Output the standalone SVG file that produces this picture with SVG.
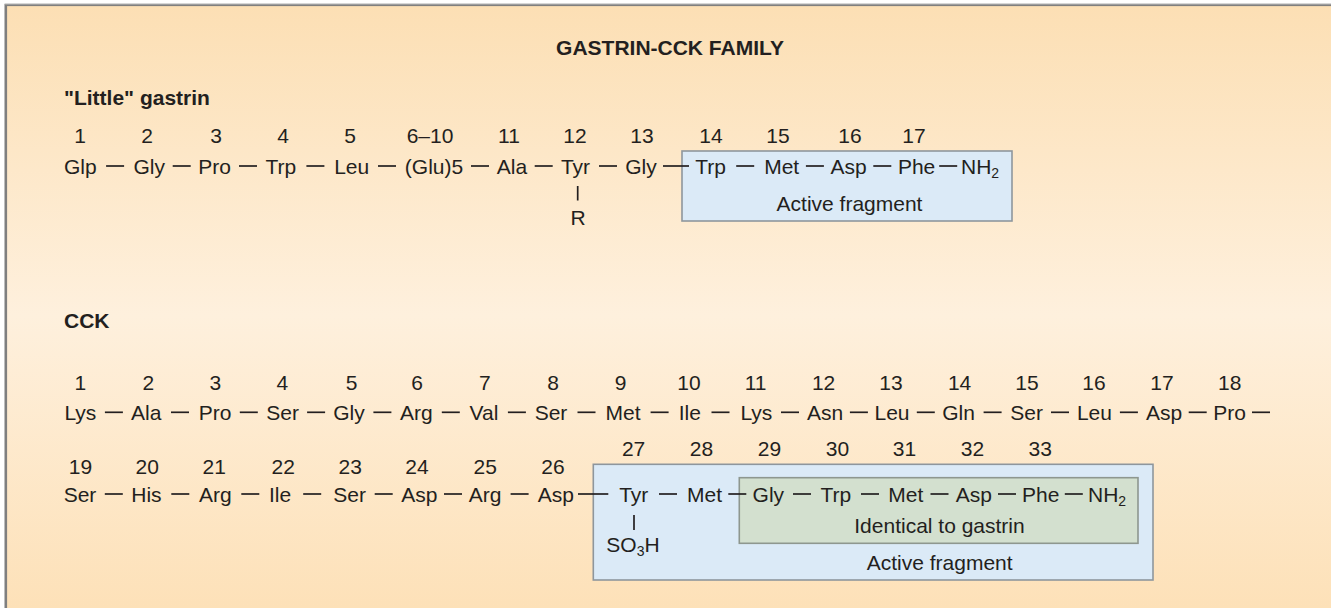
<svg xmlns="http://www.w3.org/2000/svg" width="1331" height="608" viewBox="0 0 1331 608">
<defs>
<linearGradient id="bg" x1="0" y1="0" x2="0" y2="1">
<stop offset="0" stop-color="#FCDFB4"/>
<stop offset="0.5" stop-color="#FEF0DD"/>
<stop offset="1" stop-color="#FDE0B6"/>
</linearGradient>
<style>
text{font-family:"Liberation Sans",Arial,Helvetica,sans-serif;font-size:21px;fill:#231F20}
.b{font-weight:bold}
.m{text-anchor:middle}
.sub{font-size:14px}
.bond line{stroke:#231F20;stroke-width:1.7}
.act{fill:#DBEAF7;stroke:#8E969D;stroke-width:1.6}
.ident{fill:#D3E0CF;stroke:#8E978F;stroke-width:1.6}
</style>
</defs>
<rect x="0" y="0" width="1331" height="608" fill="#FFFFFF"/>
<rect x="6" y="5" width="1340" height="620" fill="url(#bg)" stroke="#7F7F7F" stroke-width="2.2"/>
<line x1="4.5" y1="4" x2="1331" y2="4" stroke="#BDBDBD" stroke-width="1"/>
<line x1="4.5" y1="4" x2="4.5" y2="608" stroke="#BDBDBD" stroke-width="1"/>

<g id="title"><text class="b m" x="670" y="55">GASTRIN-CCK FAMILY</text></g>

<g id="gastrin">
<text class="b" x="64" y="104.5">"Little" gastrin</text>
<g id="gastrin-active"><rect class="act" x="682" y="151" width="330" height="70"/>
<text class="m" x="849.5" y="210.5">Active fragment</text></g>
<g id="gastrin-numbers">
<text class="m" x="80" y="143">1</text><text class="m" x="147" y="143">2</text><text class="m" x="216" y="143">3</text><text class="m" x="283" y="143">4</text><text class="m" x="350" y="143">5</text><text class="m" x="430" y="143">6–10</text><text class="m" x="509" y="143">11</text><text class="m" x="575" y="143">12</text><text class="m" x="642" y="143">13</text><text class="m" x="711" y="143">14</text><text class="m" x="778" y="143">15</text><text class="m" x="850" y="143">16</text><text class="m" x="914" y="143">17</text>
</g>
<g id="gastrin-residues">
<text class="m" x="80.3" y="173.5">Glp</text><text class="m" x="149.2" y="173.5">Gly</text><text class="m" x="214.7" y="173.5">Pro</text><text class="m" x="280.8" y="173.5">Trp</text><text class="m" x="351.7" y="173.5">Leu</text><text class="m" x="434" y="173.5">(Glu)5</text><text class="m" x="512" y="173.5">Ala</text><text class="m" x="575.5" y="173.5">Tyr</text><text class="m" x="641" y="173.5">Gly</text><text class="m" x="710.5" y="173.5">Trp</text><text class="m" x="781.7" y="173.5">Met</text><text class="m" x="848.7" y="173.5">Asp</text><text class="m" x="916.6" y="173.5">Phe</text><text x="961" y="173.5">NH<tspan class="sub" dy="4">2</tspan></text>
<text class="m" x="578" y="225">R</text>
</g>
</g>

<g id="cck">
<text class="b" x="64" y="328">CCK</text>
<g id="cck-active"><rect class="act" x="593.3" y="464.3" width="559.7" height="115.7"/>
<text class="m" x="939.7" y="570">Active fragment</text></g>
<g id="cck-identical"><rect class="ident" x="739.3" y="477.7" width="398.7" height="65.6"/>
<text class="m" x="939.5" y="533.3">Identical to gastrin</text></g>
<g id="cck-numbers-1">
<text class="m" x="80.4" y="390">1</text><text class="m" x="148.4" y="390">2</text><text class="m" x="215.4" y="390">3</text><text class="m" x="282.4" y="390">4</text><text class="m" x="351.6" y="390">5</text><text class="m" x="417" y="390">6</text><text class="m" x="484.8" y="390">7</text><text class="m" x="553" y="390">8</text><text class="m" x="620.5" y="390">9</text><text class="m" x="689" y="390">10</text><text class="m" x="755.6" y="390">11</text><text class="m" x="823.6" y="390">12</text><text class="m" x="891" y="390">13</text><text class="m" x="959.6" y="390">14</text><text class="m" x="1027" y="390">15</text><text class="m" x="1094" y="390">16</text><text class="m" x="1162" y="390">17</text><text class="m" x="1229.7" y="390">18</text>
</g>
<g id="cck-residues-1">
<text class="m" x="80.4" y="420">Lys</text><text class="m" x="146.2" y="420">Ala</text><text class="m" x="215" y="420">Pro</text><text class="m" x="282.6" y="420">Ser</text><text class="m" x="349" y="420">Gly</text><text class="m" x="416.3" y="420">Arg</text><text class="m" x="484" y="420">Val</text><text class="m" x="551" y="420">Ser</text><text class="m" x="623" y="420">Met</text><text class="m" x="689.8" y="420">Ile</text><text class="m" x="756.4" y="420">Lys</text><text class="m" x="825.2" y="420">Asn</text><text class="m" x="892" y="420">Leu</text><text class="m" x="958.5" y="420">Gln</text><text class="m" x="1026.7" y="420">Ser</text><text class="m" x="1094.4" y="420">Leu</text><text class="m" x="1164" y="420">Asp</text><text class="m" x="1229.7" y="420">Pro</text>
</g>
<g id="cck-numbers-2">
<text class="m" x="80.4" y="473.5">19</text><text class="m" x="147.3" y="473.5">20</text><text class="m" x="214.3" y="473.5">21</text><text class="m" x="283.2" y="473.5">22</text><text class="m" x="350.2" y="473.5">23</text><text class="m" x="417" y="473.5">24</text><text class="m" x="485.3" y="473.5">25</text><text class="m" x="553" y="473.5">26</text>
<text class="m" x="633.6" y="456">27</text><text class="m" x="701.5" y="456">28</text><text class="m" x="769.5" y="456">29</text><text class="m" x="837.5" y="456">30</text><text class="m" x="904.5" y="456">31</text><text class="m" x="972.5" y="456">32</text><text class="m" x="1040.3" y="456">33</text>
</g>
<g id="cck-residues-2">
<text class="m" x="80" y="502">Ser</text><text class="m" x="146.4" y="502">His</text><text class="m" x="215.3" y="502">Arg</text><text class="m" x="280" y="502">Ile</text><text class="m" x="349.6" y="502">Ser</text><text class="m" x="419.4" y="502">Asp</text><text class="m" x="485" y="502">Arg</text><text class="m" x="555.9" y="502">Asp</text><text class="m" x="633.8" y="502">Tyr</text><text class="m" x="704.5" y="502">Met</text><text class="m" x="768.3" y="502">Gly</text><text class="m" x="835.8" y="502">Trp</text><text class="m" x="905.8" y="502">Met</text><text class="m" x="973.8" y="502">Asp</text><text class="m" x="1040.8" y="502">Phe</text><text x="1088" y="502">NH<tspan class="sub" dy="4">2</tspan></text>
<text class="m" x="633" y="552">SO<tspan class="sub" dy="4">3</tspan><tspan dy="-4">H</tspan></text>
</g>
</g>

<g id="connectors" class="bond">
<line x1="106.1" y1="166" x2="124.1" y2="166"/><line x1="172.7" y1="166" x2="190.7" y2="166"/><line x1="239" y1="166" x2="257" y2="166"/><line x1="306.4" y1="166" x2="324.4" y2="166"/><line x1="378" y1="166" x2="396" y2="166"/><line x1="471" y1="166" x2="489" y2="166"/><line x1="534.7" y1="166" x2="552.7" y2="166"/><line x1="599" y1="166" x2="617" y2="166"/><line x1="663" y1="166" x2="689" y2="166"/><line x1="736.2" y1="166" x2="754.2" y2="166"/><line x1="805.9" y1="166" x2="823.9" y2="166"/><line x1="873.3" y1="166" x2="891.3" y2="166"/><line x1="939.2" y1="166" x2="957.2" y2="166"/>
<line x1="577.7" y1="186" x2="577.7" y2="200.5"/>
<line x1="104.9" y1="412.3" x2="122.9" y2="412.3"/><line x1="171" y1="412.3" x2="189" y2="412.3"/><line x1="239.8" y1="412.3" x2="257.8" y2="412.3"/><line x1="307.1" y1="412.3" x2="325.1" y2="412.3"/><line x1="373.4" y1="412.3" x2="391.4" y2="412.3"/><line x1="441.8" y1="412.3" x2="459.8" y2="412.3"/><line x1="507.9" y1="412.3" x2="525.9" y2="412.3"/><line x1="577.5" y1="412.3" x2="595.5" y2="412.3"/><line x1="650.6" y1="412.3" x2="668.6" y2="412.3"/><line x1="711.5" y1="412.3" x2="729.5" y2="412.3"/><line x1="781" y1="412.3" x2="799" y2="412.3"/><line x1="849.9" y1="412.3" x2="867.9" y2="412.3"/><line x1="916.8" y1="412.3" x2="934.8" y2="412.3"/><line x1="983.6" y1="412.3" x2="1001.6" y2="412.3"/><line x1="1051" y1="412.3" x2="1069" y2="412.3"/><line x1="1119.9" y1="412.3" x2="1137.9" y2="412.3"/><line x1="1188.7" y1="412.3" x2="1206.7" y2="412.3"/><line x1="1252" y1="412.3" x2="1270" y2="412.3"/>
<line x1="104.8" y1="494" x2="122.8" y2="494"/><line x1="171.3" y1="494" x2="189.3" y2="494"/><line x1="241.3" y1="494" x2="259.3" y2="494"/><line x1="303.2" y1="494" x2="321.2" y2="494"/><line x1="374.7" y1="494" x2="392.7" y2="494"/><line x1="444" y1="494" x2="462" y2="494"/><line x1="510.6" y1="494" x2="528.6" y2="494"/><line x1="578" y1="494" x2="608.3" y2="494"/><line x1="659" y1="494" x2="677" y2="494"/><line x1="728.3" y1="494" x2="746.3" y2="494"/><line x1="793" y1="494" x2="811" y2="494"/><line x1="861" y1="494" x2="879" y2="494"/><line x1="930.5" y1="494" x2="948.5" y2="494"/><line x1="998" y1="494" x2="1016" y2="494"/><line x1="1064.8" y1="494" x2="1082.8" y2="494"/>
<line x1="634" y1="515" x2="634" y2="530"/>
</g>
</svg>
